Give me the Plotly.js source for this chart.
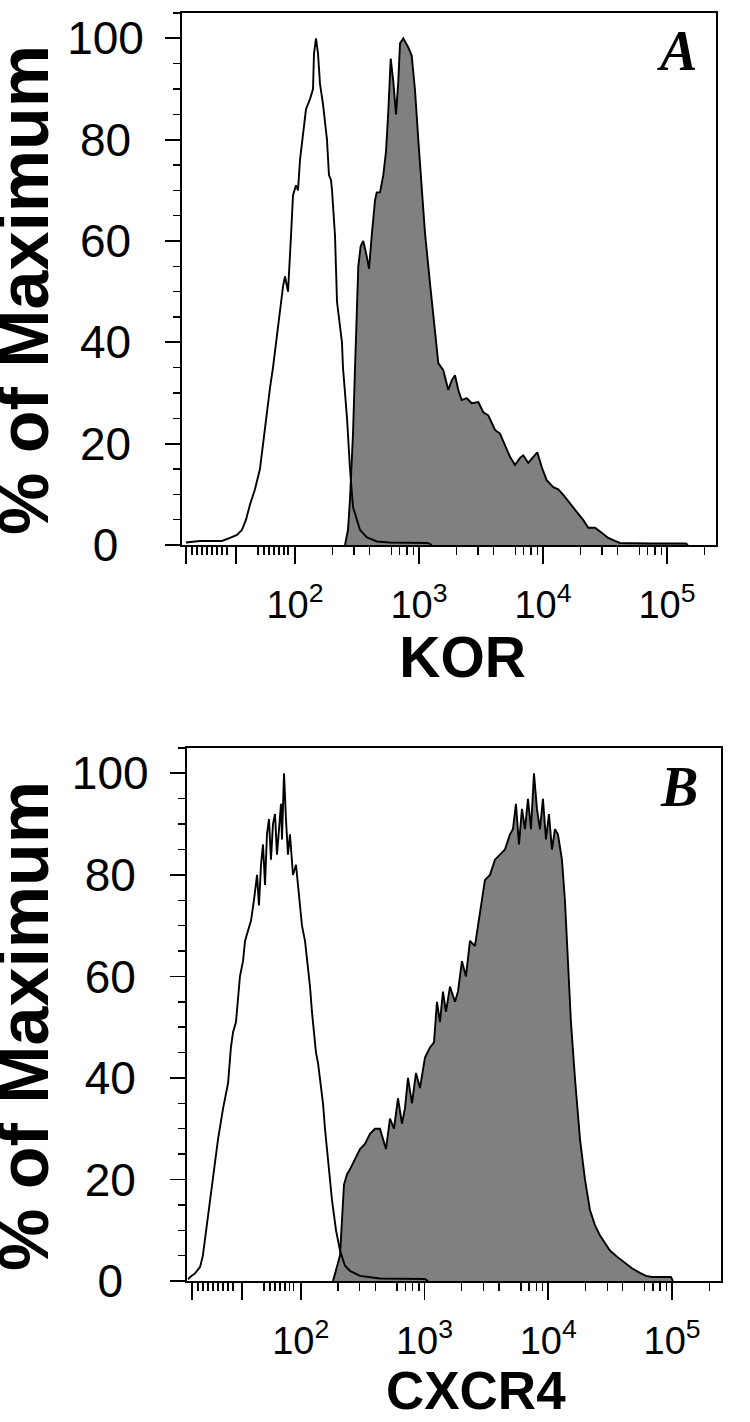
<!DOCTYPE html>
<html><head><meta charset="utf-8">
<script src="https://cdn.plot.ly/plotly-3.0.1.min.js"></script>
<style>html,body{margin:0;padding:0;background:#fff}#chart{width:750px;height:1422px}</style>
</head><body><div id="chart"></div>
<script>
// ---------- Panel A : KOR (intensity vs % of maximum) ----------
const korCtrlIntensity = [13.2, 17.1, 22.7, 25.8, 29.9, 34.1, 37.4, 40.3, 43.4, 47.6, 52.2, 55.2, 58.4, 62.9, 66.5, 70.3, 75.7, 80.1, 83.1, 87.9, 92.9, 96.4, 101.9, 105.8, 109.8, 116.1, 122.7, 132.2, 139.8, 142.4, 147.8, 153.4, 159.2, 168.3, 181.2, 188.0, 195.3, 199.0, 210.4, 218.3, 239.4, 243.9, 263.0, 277.9, 293.8, 334.3, 380.8, 458.9, 583.4, 1183, 1274];
const korCtrlPercent   = [0.5, 0.8, 0.8, 0.8, 1.4, 2, 3, 5, 8, 11, 15, 20, 25, 31, 35, 40, 47, 51, 53, 50, 61, 69, 71, 70, 76, 81, 86, 88, 90, 97, 100, 97, 91, 87, 80, 73, 72, 70, 61, 48, 40, 35, 25, 15, 7.5, 3, 1.5, 0.7, 0.5, 0.4, 0];
const korIntensity = [253.3, 267.8, 277.8, 293.8, 305.0, 316.4, 324.2, 338.9, 355.7, 378.9, 395.5, 415.8, 442.1, 456.3, 485.1, 515.8, 542.3, 565.9, 591.7, 620.9, 652.9, 681.4, 703.3, 747.7, 820.4, 873.8, 929.0, 987.6, 1084, 1119, 1227, 1347, 1432, 1572, 1724, 1837, 1953, 2076, 2211, 2427, 2663, 3010, 3302, 3624, 4106, 4504, 4940, 5423, 5950, 6528, 6940, 7614, 8357, 9001, 9768, 10717, 12116, 13292, 14588, 16520, 18715, 21154, 23207, 26285, 29771, 33651, 38109, 41806, 72977, 142400, 147770];
const korPercent   = [0, 3, 9, 22, 35, 48, 55, 59, 60, 57, 54.5, 61, 68, 69.6, 69.6, 73, 77.7, 85.6, 96, 91.5, 85, 91.5, 99, 100, 98.2, 96.6, 89.8, 80, 66, 61.5, 51.7, 41.8, 35.9, 34.5, 30.6, 32.5, 33.5, 30.6, 28.6, 29, 28, 28.2, 26.2, 25.6, 22.7, 22, 19.7, 17.4, 15.8, 17.2, 17.7, 16.2, 17.4, 18.3, 15.4, 12.8, 11.4, 11, 9.9, 8.3, 6.5, 4.9, 3.4, 3.4, 2.4, 1.4, 0.8, 0.4, 0.3, 0.3, 0];

// ---------- Panel B : CXCR4 ----------
const cxcrCtrlIntensity = [12.3, 12.8, 14.0, 15.4, 16.2, 17.2, 18.5, 19.9, 21.5, 23.6, 25.9, 27.3, 28.4, 30.0, 31.1, 32.3, 34.2, 35.5, 37.5, 39.7, 41.9, 44.4, 46.0, 47.8, 49.6, 51.5, 53.4, 55.4, 57.5, 59.7, 62.0, 64.3, 66.8, 69.3, 70.6, 73.3, 76.0, 78.9, 81.9, 86.6, 91.6, 96.8, 102.4, 108.3, 114.5, 118.9, 123.3, 128.0, 132.9, 137.9, 143.1, 151.4, 157.1, 166.1, 178.9, 192.8, 207.7, 227.9, 250.1, 301.2, 436.9, 1009, 1067];
const cxcrCtrlPercent   = [0.3, 0.8, 1.5, 2.8, 5, 10, 16, 22, 28, 34, 39, 46, 49, 51, 55, 60, 63, 67, 69, 71, 75, 80, 74, 82, 86, 78, 88, 91, 83, 90, 92, 84, 89, 94, 87, 100, 91, 84, 88, 80, 82, 76, 70, 67, 62, 58, 53, 49, 45, 43, 40, 35, 30, 24, 16, 10, 6, 3, 2, 1, 0.5, 0.4, 0];
const cxcrIntensity = [182.3, 195.3, 207.7, 215.5, 223.7, 236.5, 250.1, 274.5, 301.2, 330.6, 362.7, 398.1, 436.9, 461.9, 488.5, 526.3, 567.0, 610.7, 657.9, 695.6, 735.6, 792.6, 853.8, 919.3, 1009, 1107.6, 1193, 1261.5, 1333.5, 1410.3, 1491.2, 1606.5, 1762.6, 1863.6, 2007.6, 2162.8, 2330.3, 2557, 2806, 3079, 3380, 3709, 4071, 4468, 4903, 5184, 5482, 5797, 6130, 6482, 6855, 7248, 7663, 8102, 8568, 9058, 9577, 10127, 10708, 11324, 11973, 12896, 13636, 14421, 15246, 16423, 18030, 19787, 21715, 23834, 26152, 28697, 31493, 35874, 40864, 47415, 55036, 61518, 68786, 97950, 101650];
const cxcrPercent   = [0, 2.5, 5, 12, 19, 21, 22, 24, 26, 27, 29, 30, 30, 28, 26, 32, 30, 36, 31, 34, 40, 35, 41, 38, 44, 46, 47, 55, 51, 57, 53, 58, 55, 57, 63, 60, 67, 66, 73, 79, 80, 83, 84, 85, 88, 89, 94, 86, 93, 89, 95, 89, 100, 93, 89, 95, 87, 92, 85, 89, 88, 83, 75, 63, 51, 40, 28, 20, 14, 11, 9, 7.5, 6, 4.8, 3.8, 2.5, 1.6, 1, 0.8, 0.8, 0];

// ---------- Axis ticks ----------
const xMajorVals  = [13.2, 33.4, 100, 1000, 10000, 100000];
const xMajorText  = ['', '', '10<sup>2</sup>', '10<sup>3</sup>', '10<sup>4</sup>', '10<sup>5</sup>'];
const xMidVals    = [500, 5000, 50000];
const xMinorVals  = [14.8, 16.2, 17.8, 19.5, 21.4, 23.5, 25.8, 28.3, 50.4, 56.3, 61.8, 67.8, 74.4, 81.6, 87.9,
                     200, 300, 400, 600, 700, 800, 900,
                     2000, 3000, 4000, 6000, 7000, 8000, 9000,
                     20000, 30000, 40000, 60000, 70000, 80000, 90000, 200000];
const yTickVals = [0, 20, 40, 60, 80, 100];
const yTickText = ['0\u00a0\u00a0', '20\u00a0', '40\u00a0', '60\u00a0', '80\u00a0', '100'];
const panelLetters = ['A', 'B'];
const xTitles = ['\u00a0\u2009KOR', '\u00a0\u00a0\u00a0CXCR4'];
const yTitle = '% of Maximum';

const SANS = 'Liberation Sans, Arial, Helvetica, sans-serif';
const SERIF = 'Liberation Serif, Times New Roman, serif';
const H = 1422, W = 750;

function outlineTrace(x, y, xa, ya) {
  return {x: x, y: y, xaxis: xa, yaxis: ya, type: 'scatter', mode: 'lines',
          line: {color: '#000', width: 1.9}, hoverinfo: 'skip', showlegend: false};
}
function filledTrace(x, y, xa, ya) {
  return {x: x, y: y, xaxis: xa, yaxis: ya, type: 'scatter', mode: 'lines', fill: 'tozeroy',
          fillcolor: '#808080', line: {color: '#000', width: 1.9}, hoverinfo: 'skip', showlegend: false};
}

const data = [
  filledTrace(korIntensity, korPercent, 'x', 'y'),
  outlineTrace(korCtrlIntensity, korCtrlPercent, 'x', 'y'),
  filledTrace(cxcrIntensity, cxcrPercent, 'x2', 'y2'),
  outlineTrace(cxcrCtrlIntensity, cxcrCtrlPercent, 'x2', 'y2')
];

function xAxis(dom, range, anchor, title, tsize) {
  return {
    type: 'log', domain: dom, range: range, anchor: anchor,
    showline: true, linecolor: '#000', linewidth: 1.9, mirror: true,
    showgrid: false, zeroline: false,
    ticks: 'outside', ticklen: 17, tickwidth: 1.8, tickcolor: '#000',
    tickmode: 'array', tickvals: xMajorVals, ticktext: xMajorText,
    tickfont: {family: SANS, size: 38, color: '#000'}, ticklabelstandoff: 8,
    minor: {tickmode: 'array', tickvals: xMinorVals, ticks: 'outside', ticklen: 8, tickwidth: 1.4, tickcolor: '#000', showgrid: false},
    title: {text: '<b>' + title + '</b>', font: {family: SANS, size: tsize, color: '#000'}, standoff: 10}
  };
}
function midAxis(dom, range, over, anchor) {
  return {type: 'log', domain: dom, range: range, overlaying: over, anchor: anchor,
    showline: false, showgrid: false, zeroline: false,
    ticks: 'outside', ticklen: 12, tickwidth: 1.5, tickcolor: '#000',
    tickmode: 'array', tickvals: xMidVals, showticklabels: false};
}
function yAxis(dom, anchor) {
  return {
    domain: dom, range: [0, 105], anchor: anchor,
    showline: true, linecolor: '#000', linewidth: 1.9, mirror: true,
    showgrid: false, zeroline: false,
    ticks: 'outside', ticklen: 15, tickwidth: 1.8, tickcolor: '#000',
    tickmode: 'array', tickvals: yTickVals, ticktext: yTickText,
    tickfont: {family: SANS, size: 46, color: '#000'}, ticklabelstandoff: 12,
    minor: {dtick: 5, ticks: 'outside', ticklen: 7, tickwidth: 1.4, tickcolor: '#000', showgrid: false}
  };
}

const domX1 = [182 / W, 716 / W], domY1 = [1 - 545 / H, 1 - 13 / H];
const domX2 = [186.7 / W, 720.7 / W], domY2 = [1 - 1281 / H, 1 - 748 / H];
const rng1 = [1.089, 5.3955], rng2 = [1.079, 5.393];

function yTitleAnn(yc) {
  return {text: '<b>' + yTitle + '</b>', xref: 'paper', yref: 'paper', x: 24 / W, y: 1 - yc / H,
          xanchor: 'center', yanchor: 'middle', textangle: -90, showarrow: false,
          font: {family: SANS, size: 70, color: '#000'}};
}
function letterAnn(t, xc, yc) {
  return {text: '<b><i>' + t + '</i></b>', xref: 'paper', yref: 'paper', x: xc / W, y: 1 - yc / H,
          xanchor: 'center', yanchor: 'middle', showarrow: false, font: {family: SERIF, size: 56, color: '#000'}};
}

const layout = {
  width: W, height: H, margin: {l: 0, r: 0, t: 0, b: 0},
  paper_bgcolor: '#fff', plot_bgcolor: '#fff', showlegend: false,
  xaxis: xAxis(domX1, rng1, 'y', xTitles[0], 57),
  yaxis: yAxis(domY1, 'x'),
  xaxis2: xAxis(domX2, rng2, 'y2', xTitles[1], 53),
  yaxis2: yAxis(domY2, 'x2'),
  xaxis3: midAxis(domX1, rng1, 'x', 'y'),
  xaxis4: midAxis(domX2, rng2, 'x2', 'y2'),
  annotations: [
    yTitleAnn(290), yTitleAnn(1026),
    letterAnn(panelLetters[0], 677, 51),
    letterAnn(panelLetters[1], 679, 787)
  ]
};

Plotly.newPlot('chart', data, layout, {staticPlot: true, displayModeBar: false});
</script></body></html>
